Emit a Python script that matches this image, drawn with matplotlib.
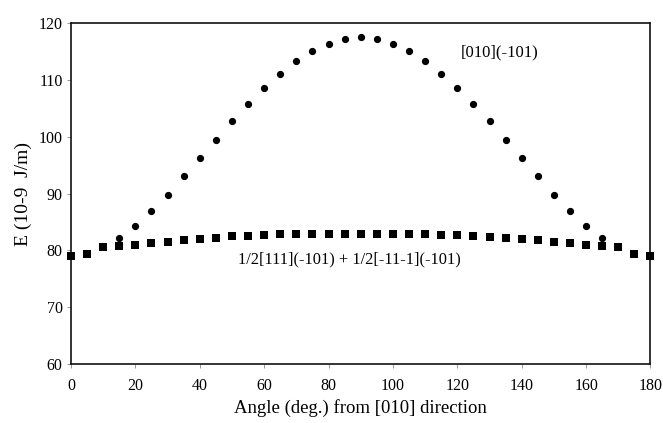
import matplotlib.pyplot as plt
import numpy as np

# angles (deg.) from [010]
ang_010 = [15, 20, 25, 30, 35, 40, 45, 50, 55, 60, 65, 70, 75, 80, 85, 90,
           95, 100, 105, 110, 115, 120, 125, 130, 135, 140, 145, 150, 155, 160, 165]
E_010 = [82.1, 84.3, 86.9, 89.8, 93.0, 96.2, 99.5, 102.8, 105.8, 108.6, 111.1,
         113.3, 115.1, 116.35, 117.2, 117.5, 117.2, 116.35, 115.1, 113.3, 111.1,
         108.6, 105.8, 102.8, 99.5, 96.2, 93.0, 89.8, 86.9, 84.3, 82.1]

ang_half = [0, 5, 10, 15, 20, 25, 30, 35, 40, 45, 50, 55, 60, 65, 70, 75, 80, 85,
            90, 95, 100, 105, 110, 115, 120, 125, 130, 135, 140, 145, 150, 155,
            160, 165, 170, 175, 180]
E_half = [79.0, 79.3, 80.5, 80.7, 81.0, 81.2, 81.5, 81.75, 82.0, 82.2, 82.45,
          82.55, 82.7, 82.8, 82.8, 82.85, 82.85, 82.85,
          82.85, 82.85, 82.85, 82.85, 82.8, 82.75, 82.7, 82.5, 82.3, 82.2,
          82.0, 81.75, 81.5, 81.2, 81.0, 80.7, 80.5, 79.3, 79.0]

plt.rcParams['font.family'] = ['Liberation Serif', 'DejaVu Serif']

fig = plt.figure(figsize=(6.63, 4.23), dpi=100)
ax = fig.add_axes([0.1071, 0.1402, 0.8740, 0.8047])

ax.plot(ang_010, E_010, 'o', color='black', ms=4.2, clip_on=False, zorder=3)
ax.plot(ang_half, E_half, 's', color='black', ms=5.4, mew=0, clip_on=False, zorder=3)

ax.text(121, 114.8, '[010](-101)', fontsize=12, va='center', ha='left')
ax.text(52, 78.3, '1/2[111](-101) + 1/2[-11-1](-101)', fontsize=11.8, va='center', ha='left')

ax.set_xlim(0, 180)
ax.set_ylim(60, 120)
ax.set_xticks(np.arange(0, 181, 20))
ax.set_yticks(np.arange(60, 121, 10))
ax.tick_params(direction='out', length=3, width=0.6, color='#888888',
               labelsize=11.5, pad=3)
ax.tick_params(axis='x', pad=7)

for s in ax.spines.values():
    s.set_linewidth(1.2)
    s.set_color('#111111')

ax.set_xlabel('Angle (deg.) from [010] direction', fontsize=13.5, labelpad=4)
ax.set_ylabel('E (10-9  J/m)', fontsize=14, labelpad=5)

plt.savefig('out.png', dpi=100)
